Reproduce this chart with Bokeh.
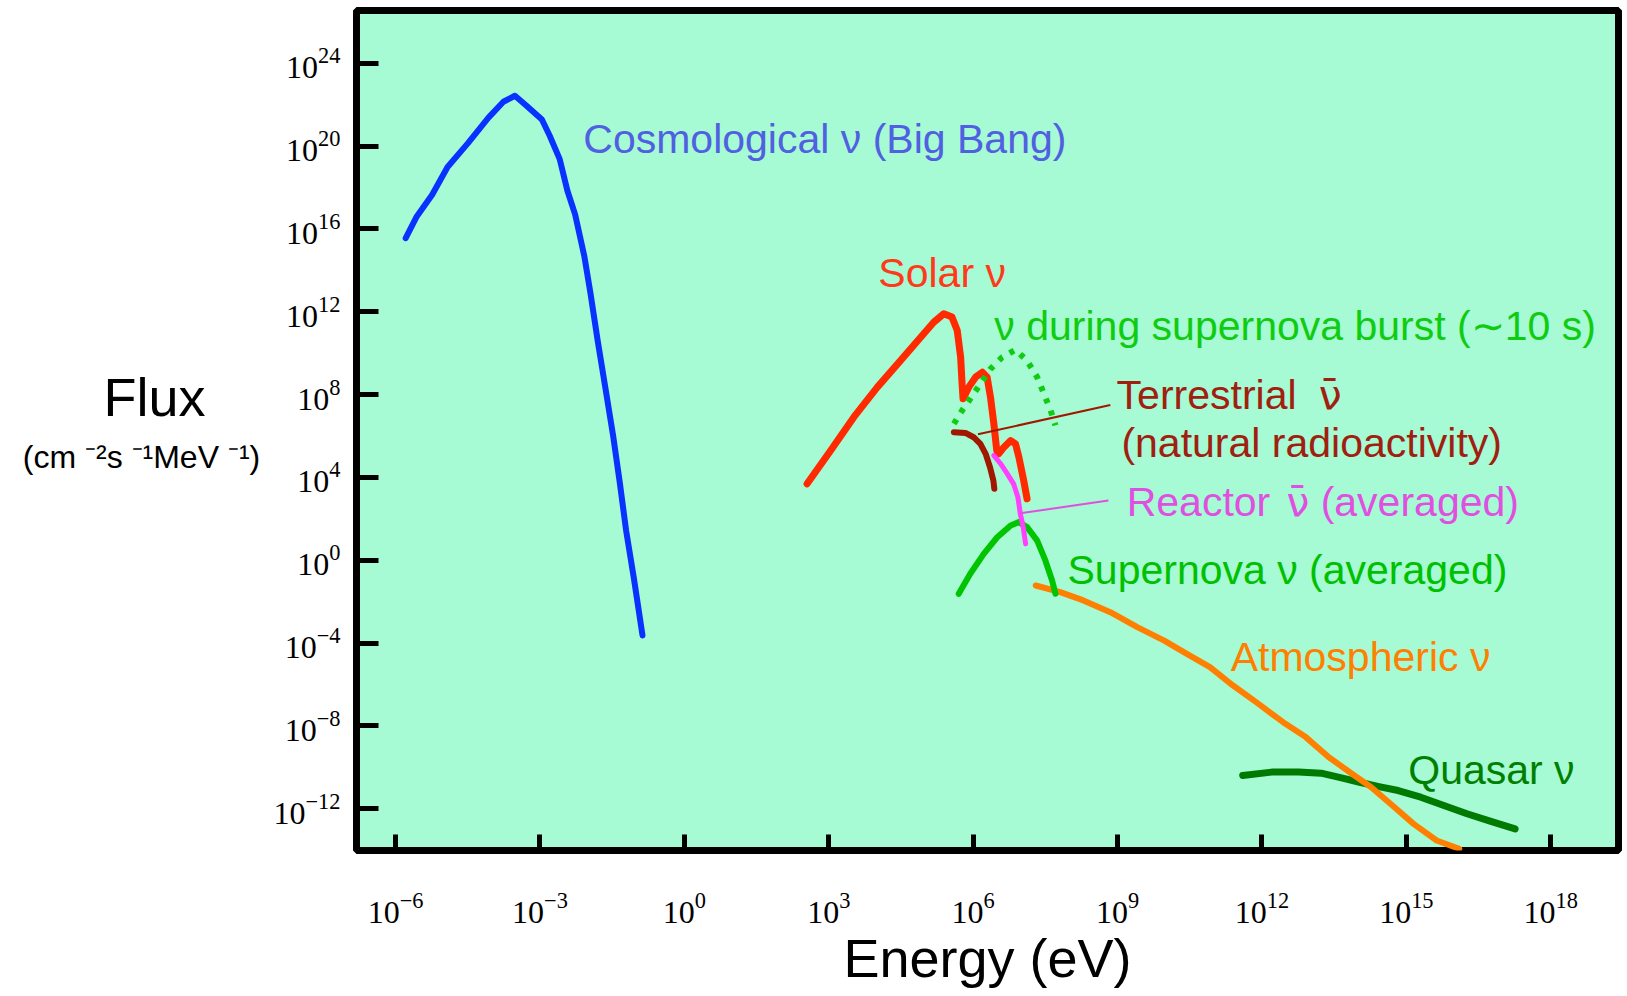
from bokeh.plotting import figure
from bokeh.layouts import row
from bokeh.models import Label, FixedTicker, Range1d
from bokeh.embed import file_html
from bokeh.resources import INLINE

# ---- data: log10(E / eV) and log10(flux / cm^-2 s^-1 MeV^-1) ----
cosmo_logE = [-5.79, -5.56, -5.24, -4.92, -4.50, -4.07, -3.76, -3.52, -3.28, -2.96, -2.80, -2.59,
              -2.43, -2.27, -2.08, -1.95, -1.80, -1.64, -1.48, -1.34, -1.21, -1.05, -0.95, -0.87]
cosmo_logF = [15.55, 16.60, 17.65, 18.99, 20.13, 21.37, 22.14, 22.43, 21.95, 21.28, 20.51, 19.37,
              17.84, 16.70, 14.70, 12.88, 10.59, 8.30, 6.01, 3.72, 1.43, -0.86, -2.39, -3.63]

solar_logE = [2.55, 3.04, 3.52, 4.01, 4.49, 4.91, 5.18, 5.39, 5.56, 5.67, 5.74, 5.77, 5.79, 5.91,
              6.05, 6.19, 6.29, 6.36, 6.43, 6.49, 6.53, 6.64, 6.78, 6.88, 6.95, 7.05, 7.12]
solar_logF = [3.69, 5.30, 6.91, 8.36, 9.64, 10.77, 11.49, 11.90, 11.74, 11.09, 9.80, 8.52, 7.80, 8.36,
              8.84, 9.08, 8.84, 7.87, 6.59, 5.30, 5.14, 5.46, 5.78, 5.62, 4.98, 3.85, 2.97]

burst_logE = [5.60, 5.77, 5.94, 6.15, 6.36, 6.60, 6.88, 7.12, 7.33, 7.47, 7.61, 7.71]
burst_logF = [6.59, 7.23, 7.80, 8.52, 9.24, 9.80, 10.16, 9.64, 8.84, 8.04, 7.23, 6.51]

terr_logE = [5.60, 5.84, 6.01, 6.15, 6.26, 6.35, 6.42, 6.44]
terr_logF = [6.18, 6.15, 5.94, 5.62, 5.14, 4.49, 3.85, 3.45]

reactor_logE = [6.43, 6.57, 6.71, 6.84, 6.93, 6.98, 7.04, 7.09]
reactor_logF = [5.06, 4.66, 4.17, 3.69, 3.04, 2.24, 1.60, 0.79]

sn_logE = [5.70, 5.94, 6.22, 6.50, 6.78, 6.95, 7.12, 7.33, 7.50, 7.64, 7.71]
sn_logF = [-1.62, -0.65, 0.31, 1.11, 1.68, 1.84, 1.60, 0.95, -0.01, -0.98, -1.62]

atmo_logE = [7.30, 7.81, 8.29, 8.85, 9.41, 9.97, 10.44, 10.92, 11.40, 11.88, 12.44, 12.91, 13.39,
             13.87, 14.27, 14.67, 15.15, 15.63, 16.10]
atmo_logF = [-1.22, -1.54, -1.94, -2.51, -3.23, -3.88, -4.52, -5.16, -6.05, -6.85, -7.82, -8.54,
             -9.51, -10.31, -10.96, -11.76, -12.73, -13.53, -13.93]

quasar_logE = [11.60, 12.20, 12.76, 13.23, 13.63, 14.03, 14.43, 14.83, 15.30, 15.78, 16.26, 16.74, 17.26]
quasar_logF = [-10.39, -10.23, -10.23, -10.28, -10.50, -10.72, -10.93, -11.12, -11.44, -11.84,
               -12.24, -12.60, -12.97]

# leader lines of the labels
terr_leader_logE = [6.10, 8.85]
terr_leader_logF = [6.08, 7.50]
reactor_leader_logE = [6.98, 8.81]
reactor_leader_logF = [2.27, 2.88]

x_tick_exps = [-6, -3, 0, 3, 6, 9, 12, 15, 18]
y_tick_exps = [-12, -8, -4, 0, 4, 8, 12, 16, 20, 24]

# (text, log10 x of left edge, log10 y of middle, colour, font)
labels = [
    ("Cosmological ν (Big Bang)", -2.10, 20.32, "#5060E0", "Liberation Sans"),
    ("Solar ν", 4.03, 13.89, "#FF3A1A", "Liberation Sans"),
    ("ν during supernova burst (∼10 s)", 6.44, 11.29, "#10CC10", "Liberation Sans"),
    ("Terrestrial", 8.98, 8.00, "#A02010", "Liberation Sans"),
    ("ν̄", 13.18, 8.00, "#A02010", "DejaVu Sans"),
    ("(natural radioactivity)", 9.08, 5.64, "#A02010", "Liberation Sans"),
    ("Reactor", 9.19, 2.79, "#E050E0", "Liberation Sans"),
    ("ν̄", 12.51, 2.79, "#E050E0", "DejaVu Sans"),
    ("(averaged)", 13.22, 2.79, "#E050E0", "Liberation Sans"),
    ("Supernova ν (averaged)", 7.96, -0.45, "#00C000", "Liberation Sans"),
    ("Atmospheric ν", 11.35, -4.65, "#FF8000", "Liberation Sans"),
    ("Quasar ν", 15.04, -10.15, "#008000", "Liberation Sans"),
]


def pw(v):
    return [10.0 ** t for t in v]


LEFT_W = 268
H = 996
FRAME_TOP = 10
FRAME_BOTTOM = 850

# ---------- left panel holding the horizontal y-axis title ----------
# (its frame is aligned with the main frame by the row layout; range = canvas pixels)
left = figure(width=LEFT_W, height=H, x_range=Range1d(0, LEFT_W),
              y_range=Range1d(FRAME_BOTTOM, FRAME_TOP),
              output_backend="svg", toolbar_location=None, title=None,
              x_axis_location=None, y_axis_location=None,
              min_border=0, min_border_left=0, min_border_right=0,
              min_border_top=FRAME_TOP, min_border_bottom=H - FRAME_BOTTOM)
left.outline_line_color = None
left.background_fill_color = "white"
left.border_fill_color = "white"
left.grid.grid_line_color = None
left.add_layout(Label(x=154, y=396, text="Flux", text_color="black",
                      text_font="Liberation Sans", text_font_size="54px",
                      text_align="center", text_baseline="middle"))
left.add_layout(Label(x=141, y=456, text="(cm ⁻²s ⁻¹MeV ⁻¹)", text_color="black",
                      text_font="Liberation Sans", text_font_size="32px",
                      text_align="center", text_baseline="middle"))

# ---------- main chart ----------
p = figure(width=1627 - LEFT_W, height=H, x_axis_type="log", y_axis_type="log",
           x_range=Range1d(10 ** -6.812, 10 ** 19.408),
           y_range=Range1d(10 ** -14.015, 10 ** 26.545),
           output_backend="svg", toolbar_location=None, title=None,
           min_border_left=356 - LEFT_W, min_border_right=9, min_border_top=FRAME_TOP,
           min_border_bottom=H - FRAME_BOTTOM)

p.background_fill_color = "#A6FAD4"
p.border_fill_color = "white"
p.outline_line_color = "black"
p.outline_line_width = 7
p.xgrid.grid_line_color = None
p.ygrid.grid_line_color = None

for ax in (p.xaxis[0], p.yaxis[0]):
    ax.axis_line_color = None
    ax.major_tick_out = 0
    ax.major_tick_line_width = 5
    ax.major_tick_line_color = "black"
    ax.minor_tick_line_color = None
    ax.major_label_text_font = "Liberation Serif"
    ax.major_label_text_font_size = "32px"
    ax.major_label_text_color = "black"

p.xaxis[0].ticker = FixedTicker(ticks=pw(x_tick_exps))
p.yaxis[0].ticker = FixedTicker(ticks=pw(y_tick_exps))
p.xaxis[0].major_tick_in = 16
p.yaxis[0].major_tick_in = 22
p.xaxis[0].major_label_standoff = 42
p.yaxis[0].major_label_standoff = 16

p.xaxis[0].axis_label = "Energy (eV)"
p.xaxis[0].axis_label_text_font = "Liberation Sans"
p.xaxis[0].axis_label_text_font_style = "normal"
p.xaxis[0].axis_label_text_font_size = "54px"
p.xaxis[0].axis_label_text_color = "black"
p.xaxis[0].axis_label_standoff = 2

common = dict(line_join="round", line_cap="round")
p.line(pw(cosmo_logE), pw(cosmo_logF), line_color="#0A32FF", line_width=6, **common)
p.line(pw(quasar_logE), pw(quasar_logF), line_color="#007A00", line_width=7, **common)
p.line(pw(atmo_logE), pw(atmo_logF), line_color="#FF8000", line_width=6, **common)
p.line(pw(sn_logE), pw(sn_logF), line_color="#00C400", line_width=6, **common)
p.line(pw(solar_logE), pw(solar_logF), line_color="#FF2A00", line_width=7, **common)
p.line(pw(burst_logE), pw(burst_logF), line_color="#10CC10", line_width=6,
       line_dash="5 8", line_join="round")
p.line(pw(terr_logE), pw(terr_logF), line_color="#A01800", line_width=6, **common)
p.line(pw(reactor_logE), pw(reactor_logF), line_color="#FF40FF", line_width=5, **common)
p.line(pw(terr_leader_logE), pw(terr_leader_logF), line_color="#A01800", line_width=2)
p.line(pw(reactor_leader_logE), pw(reactor_leader_logF), line_color="#E050E0", line_width=2)

for text, lx, ly, col, font in labels:
    p.add_layout(Label(x=10 ** lx, y=10 ** ly, text=text, text_color=col,
                       text_font=font, text_font_size="41px",
                       text_align="left", text_baseline="middle"))

layout = row(left, p)
open("out.html", "w").write(file_html(layout, INLINE))
